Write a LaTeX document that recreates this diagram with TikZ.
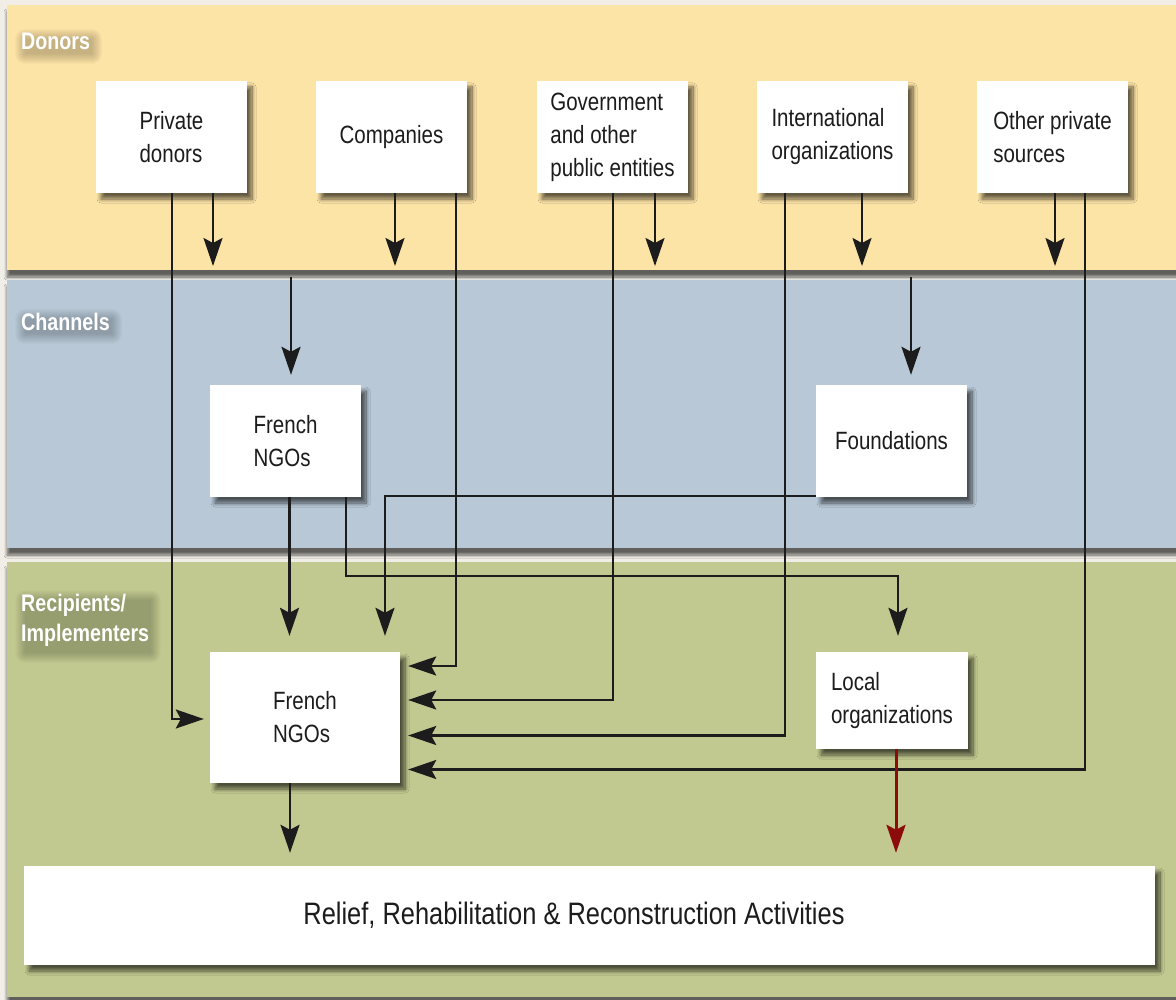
\documentclass[tikz,border=0pt]{standalone}
\usepackage{fontspec}
\setmainfont{Liberation Sans}[FakeStretch=0.82]
\usetikzlibrary{arrows.meta,shadows.blur,calc}

\definecolor{pagebg}{RGB}{240,238,230}
\definecolor{donorband}{RGB}{252,227,166}
\definecolor{channelband}{RGB}{184,200,214}
\definecolor{recipband}{RGB}{194,201,144}
\definecolor{flowred}{RGB}{140,12,12}
\definecolor{ink}{RGB}{28,28,28}

\tikzset{
  band/.style={blur shadow={shadow xshift=0pt, shadow yshift=-7pt,
      shadow blur radius=3pt, shadow blur steps=8, shadow opacity=60}},
  box/.style={fill=white, draw=none, align=left, inner sep=0pt, text=ink,
    font=\fontsize{25}{33}\selectfont,
    blur shadow={shadow xshift=5pt, shadow yshift=-6pt,
      shadow blur radius=4pt, shadow blur steps=10, shadow opacity=60}},
  smallbox/.style={box, minimum width=151pt, minimum height=112pt},
  flow/.style={draw=ink, line width=2.2pt,
    -{Stealth[length=28pt,width=19pt,inset=5pt]}},
  redflow/.style={flow, draw=flowred, line width=3pt},
  bandlabel/.style={anchor=north west, align=left, inner sep=0pt, text=white,
    font=\bfseries\fontsize{24}{30}\selectfont},
  halo/.style={fill=black, opacity=0.02, draw=none},
}

\begin{document}
\begin{tikzpicture}[x=1pt,y=-1pt]
  \useasboundingbox (0,0) rectangle (1176,1000);
  \fill[pagebg] (0,0) rectangle (1176,1000);

  % horizontal bands
  \fill[donorband, band] (7,5) rectangle (1190,270);
  \fill[channelband, band] (7,280) rectangle (1190,548);
  \fill[recipband, band] (7,562) rectangle (1190,997);

  % soft dark halo behind the band titles
  \foreach \r in {0,...,10} {
    \fill[halo, rounded corners=\r pt] (25-\r,39-\r) rectangle (92+\r,54+\r);
    \fill[halo, rounded corners=\r pt] (25-\r,319-\r) rectangle (112+\r,334+\r);
    \fill[halo, rounded corners=\r pt] (25-\r,600-\r) rectangle (151+\r,653+\r);
  }

  % band titles
  \node[bandlabel] (donors) at (21,33) {Donors};
  \node[bandlabel] (channels) at (21,313) {Channels};
  \node[bandlabel] (recip) at (21,594) {Recipients/\\Implementers};

  % donors
  \node[smallbox] (pd)   at (171.5,137)  {Private\\donors};
  \node[smallbox] (co)   at (391.5,137)  {Companies};
  \node[smallbox] (gov)  at (612.5,137)  {Government\\and other\\public entities};
  \node[smallbox] (intl) at (832.5,137)  {International\\organizations};
  \node[smallbox] (oth)  at (1052.5,137) {Other private\\sources};

  % channels
  \node[smallbox] (fngo1) at (285.5,441) {French\\NGOs};
  \node[smallbox] (fnd)   at (891.5,441) {Foundations};

  % recipients / implementers
  \node[box, minimum width=190pt, minimum height=131pt] (fngo2) at (305,717.5) {French\\NGOs};
  \node[box, minimum width=152pt, minimum height=97pt] (loc) at (892,700.5) {Local\\organizations};
  \node[box, minimum width=1131pt, minimum height=99pt, font=\fontsize{31}{36}\selectfont]
    (rel) at (589.5,915.5) {Relief, Rehabilitation \& Reconstruction Activities\hspace*{31pt}};

  % free ends of the donor flows into the channels
  \coordinate (pdOut)  at (213,266);
  \coordinate (coOut)  at (395,266);
  \coordinate (govOut) at (655,266);
  \coordinate (intOut) at (862,266);
  \coordinate (othOut) at (1055,266);
  \coordinate (chA) at (291,277);
  \coordinate (chB) at (911,277);

  % donor flows into channels
  \draw[flow] ($(pd.south)+(41.5,0)$) -- (pdOut);
  \draw[flow] ($(co.south)+(3.5,0)$) -- (coOut);
  \draw[flow] ($(gov.south)+(42.5,0)$) -- (govOut);
  \draw[flow] ($(intl.south)+(29.5,0)$) -- (intOut);
  \draw[flow] ($(oth.south)+(2.5,0)$) -- (othOut);
  \draw[flow, shorten >=10pt] (chA) -- (chA |- fngo1.north);
  \draw[flow, shorten >=10pt] (chB) -- (chB |- fnd.north);

  % direct donor flows to French NGOs
  \draw[flow, shorten >=6pt] ($(pd.south)+(0.5,0)$) |- ($(fngo2.west)+(0,1.5)$);
  \draw[flow, shorten >=8pt] ($(co.south)+(64.5,0)$) |- ($(fngo2.east)+(0,-51.5)$);
  \draw[flow, shorten >=8pt] ($(gov.south)+(0.5,0)$) |- ($(fngo2.east)+(0,-17.5)$);
  \draw[flow, shorten >=8pt] ($(intl.south)+(-47.5,0)$) |- ($(fngo2.east)+(0,18)$);
  \draw[flow, shorten >=8pt] ($(oth.south)+(32.5,0)$) |- ($(fngo2.east)+(0,52)$);

  % channel flows
  \coordinate (nA) at ($(fngo1.south)+(4,0)$);
  \coordinate (nB) at ($(fngo1.south)+(60.5,0)$);
  \draw[flow, shorten >=16pt] (nA) -- (nA |- fngo2.north);
  \draw[flow, shorten >=16pt] (nB) -- ++(0,79) -| ($(loc.north)+(6,0)$);
  \draw[flow, shorten >=16pt] ($(fnd.south west)+(0,-1)$) -| ($(fngo2.north)+(80,0)$);

  % implementers to activities
  \coordinate (nC) at ($(fngo2.south)+(-15,0)$);
  \coordinate (nD) at ($(loc.south)+(4,0)$);
  \draw[flow, shorten >=13pt] (nC) -- (nC |- rel.north);
  \draw[redflow, shorten >=13pt] (nD) -- (nD |- rel.north);
\end{tikzpicture}
\end{document}
